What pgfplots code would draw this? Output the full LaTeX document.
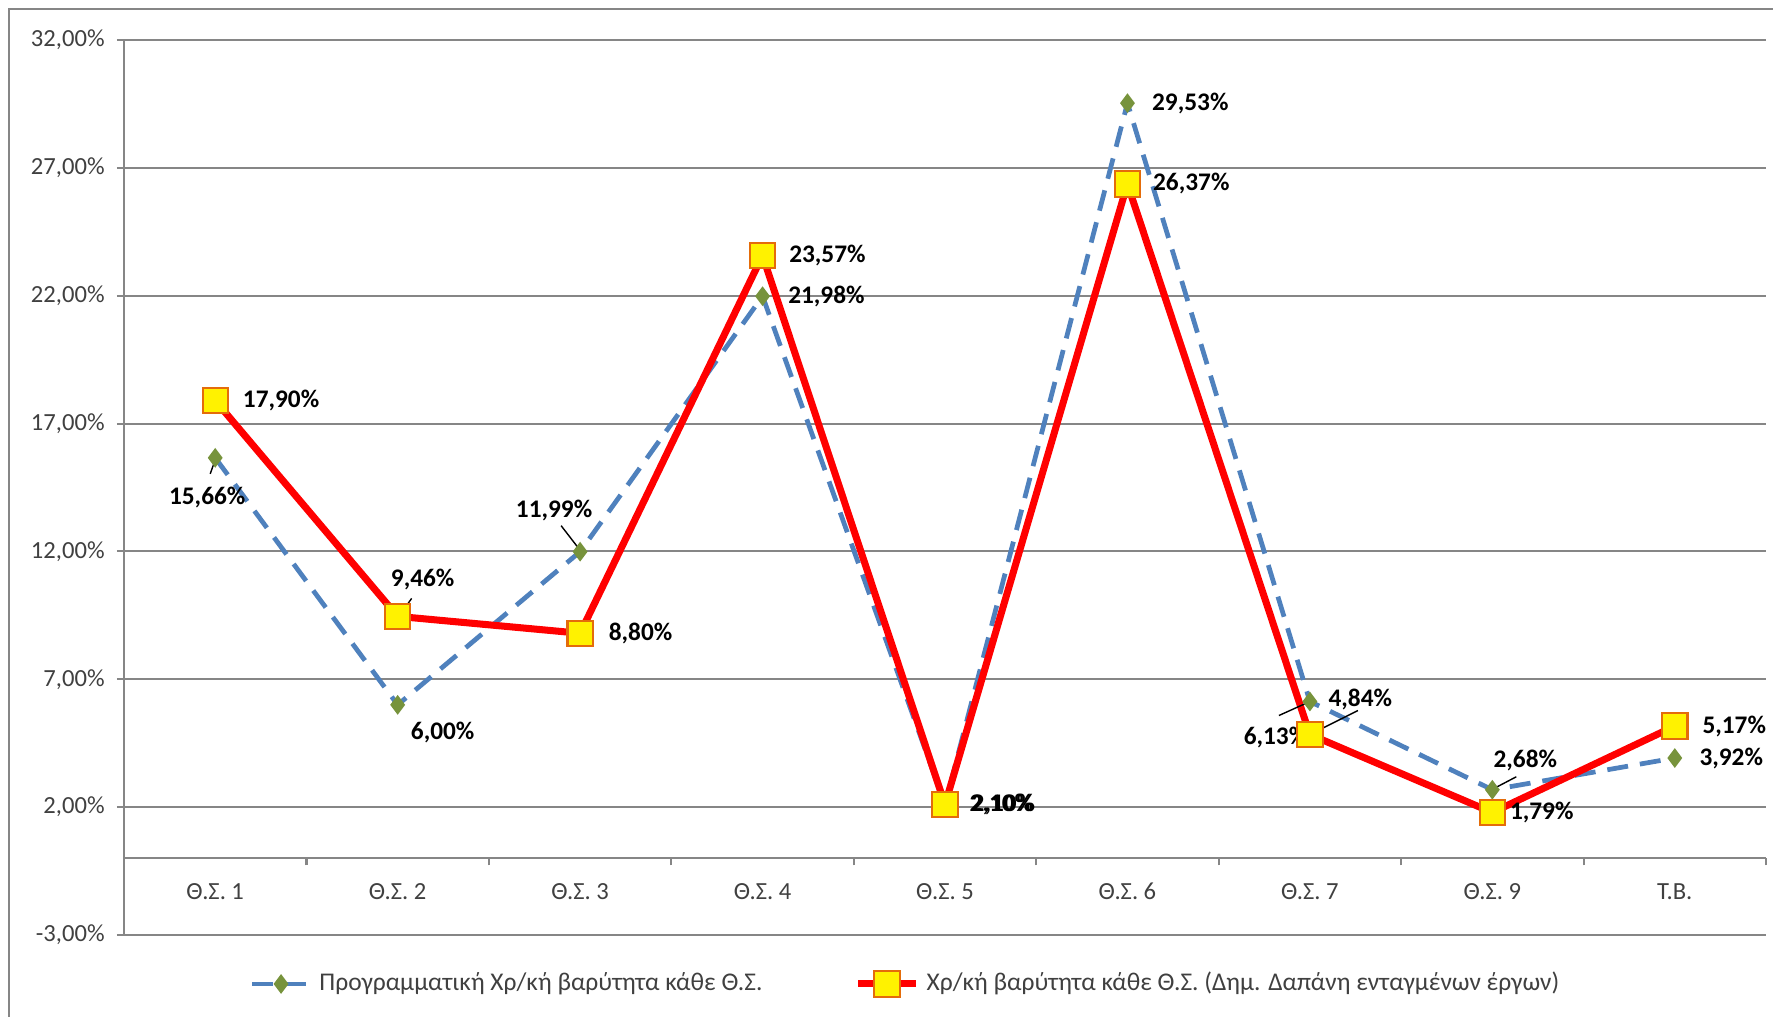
\documentclass[border=0pt]{standalone}
\usepackage{fontspec}
\setmainfont{Carlito}
\usepackage{pgfplots}
\pgfplotsset{compat=1.18}
\definecolor{gridgray}{HTML}{868686}
\definecolor{txtgray}{HTML}{404040}
\definecolor{serblue}{HTML}{4F81BD}
\definecolor{dgreen}{HTML}{77933C}
\definecolor{sqedge}{HTML}{E46C0A}
\tikzset{dlab/.style={inner sep=0pt, font=\bfseries\fontsize{7.2}{8}\selectfont, text=black}}
\newcommand{\dl}[5]{\node[dlab, anchor=#3] at ([shift={(#4,#5)}]axis cs:#1) {#2};}
\newcommand{\ld}[5]{\draw[black, line width=0.4pt] ([shift={(#2,#3)}]axis cs:#1) -- ([shift={(#4,#5)}]axis cs:#1);}
\begin{document}
\begin{tikzpicture}
\useasboundingbox (0,0) rectangle (177.3mm,101.7mm);
\draw[gridgray, line width=0.6pt] (0.9mm,0) -- (0.9mm,100.8mm) -- (177.3mm,100.8mm);
\begin{axis}[
  at={(12.4mm,8.2mm)}, anchor=south west,
  scale only axis, width=164.2mm, height=89.5mm,
  xmin=-0.5, xmax=8.5, ymin=-3, ymax=32,
  axis x line*=middle, axis y line*=left,
  axis line style={gridgray, line width=0.6pt},
  tick align=outside,
  ytick={-3,2,7,12,17,22,27,32},
  yticklabels={{-3,00\%},{2,00\%},{7,00\%},{12,00\%},{17,00\%},{22,00\%},{27,00\%},{32,00\%}},
  ymajorgrids, grid style={gridgray, line width=0.6pt},
  major tick length=0.7mm,
  tick style={gridgray, line width=0.6pt},
  yticklabel style={font=\fontsize{7}{8}\selectfont, text=txtgray},
  xtick={-0.5,0.5,...,8.5}, xticklabels={},
  extra x ticks={0,1,2,3,4,5,6,7,8},
  extra x tick labels={{Θ.Σ. 1},{Θ.Σ. 2},{Θ.Σ. 3},{Θ.Σ. 4},{Θ.Σ. 5},{Θ.Σ. 6},{Θ.Σ. 7},{Θ.Σ. 9},{Τ.Β.}},
  extra x tick style={major tick length=0pt, xmajorgrids=false,
     tick label style={font=\fontsize{7}{8}\selectfont, text=txtgray, anchor=center, yshift=-3.3mm}},
  legend style={at={(axis description cs:0.4775,-0.0547)}, anchor=center, draw=none, fill=none,
     legend columns=2, font=\fontsize{7.25}{9}\selectfont, text=txtgray,
     /tikz/every even column/.append style={column sep=8.5mm}},
  legend image code/.code={\draw[mark repeat=2,mark phase=2,#1] plot coordinates {(0mm,0mm) (2.9mm,0mm) (5.8mm,0mm)};},
  clip=false,
]
\addplot[serblue, line width=1.35pt, dash pattern=on 2.1mm off 1.2mm,
  mark=diamond*, mark size=1.7pt, mark options={solid, fill=dgreen, draw=dgreen}]
  coordinates {(0,15.66) (1,6.00) (2,11.99) (3,21.98) (4,2.10) (5,29.53) (6,6.13) (7,2.68) (8,3.92)};
\addlegendentry{Προγραμματική Χρ/κή βαρύτητα κάθε Θ.Σ.}
\addplot[red, line width=2pt,
  mark=square*, mark size=3.6pt, mark options={fill=yellow, draw=sqedge, line width=0.6pt}]
  coordinates {(0,17.90) (1,9.46) (2,8.80) (3,23.57) (4,2.10) (5,26.37) (6,4.84) (7,1.79) (8,5.17)};
\addlegendentry{Χρ/κή βαρύτητα κάθε Θ.Σ. (Δημ. Δαπάνη ενταγμένων έργων)}
% red labels
\dl{0,17.90}{17,90\%}{west}{2.7mm}{0mm}
\dl{1,9.46}{9,46\%}{center}{2.5mm}{3.7mm}
\ld{1,9.46}{0.4mm}{0.4mm}{1.4mm}{1.8mm}
\dl{2,8.80}{8,80\%}{west}{2.8mm}{0mm}
\dl{3,23.57}{23,57\%}{west}{2.6mm}{0mm}
\dl{4,2.10}{2,10\%}{west}{2.4mm}{0mm}
\dl{5,26.37}{26,37\%}{west}{2.5mm}{0mm}
\dl{6,4.84}{4,84\%}{west}{1.8mm}{3.5mm}
\ld{6,4.84}{0mm}{0mm}{4.8mm}{2.4mm}
\dl{7,1.79}{1,79\%}{west}{1.7mm}{0mm}
\dl{8,5.17}{5,17\%}{west}{2.7mm}{0mm}
% blue labels
\dl{0,15.66}{15,66\%}{center}{-0.8mm}{-4.0mm}
\ld{0,15.66}{-0.5mm}{-1.6mm}{0mm}{-0.2mm}
\dl{1,6.00}{6,00\%}{center}{4.5mm}{-2.8mm}
\dl{2,11.99}{11,99\%}{center}{-2.6mm}{4.1mm}
\ld{2,11.99}{-1.9mm}{2.6mm}{-0.2mm}{0.4mm}
\dl{3,21.98}{21,98\%}{west}{2.5mm}{0mm}
\dl{4,2.10}{2,10\%}{west}{2.6mm}{0mm}
\dl{5,29.53}{29,53\%}{west}{2.4mm}{0mm}
\dl{6,6.13}{6,13\%}{east}{-0.2mm}{-3.6mm}
\ld{6,6.13}{0mm}{0mm}{-3.1mm}{-1.4mm}
\dl{7,2.68}{2,68\%}{center}{3.3mm}{2.9mm}
\ld{7,2.68}{0.3mm}{0.2mm}{2.4mm}{1.3mm}
\dl{8,3.92}{3,92\%}{west}{2.4mm}{0mm}
\end{axis}
\end{tikzpicture}
\end{document}
